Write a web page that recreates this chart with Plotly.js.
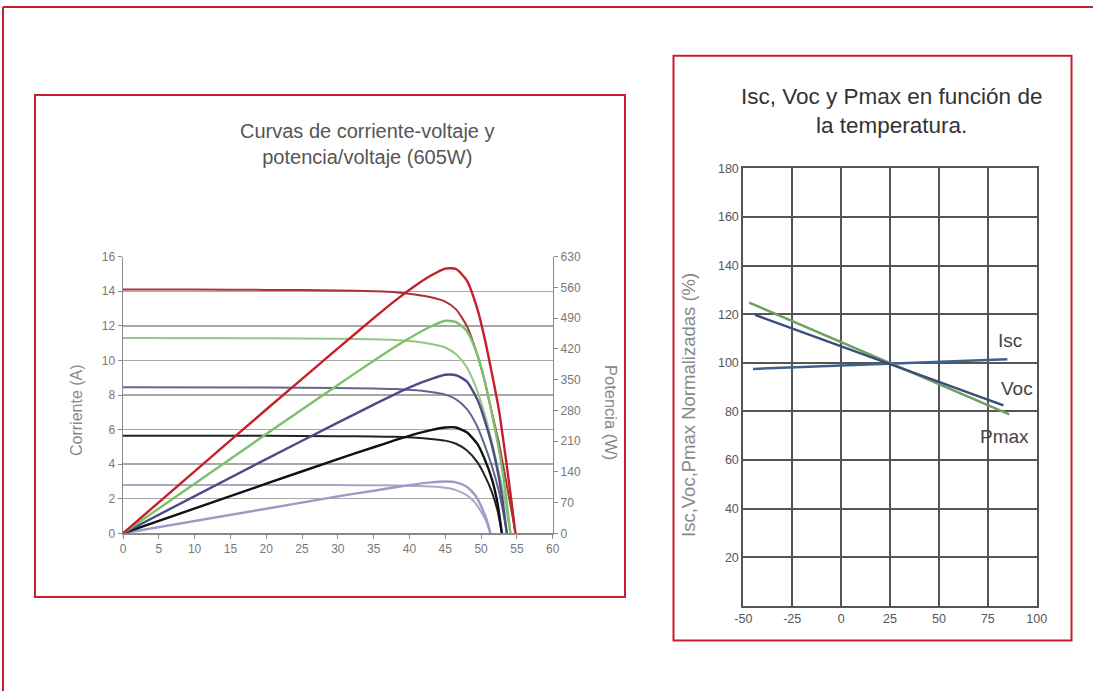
<!DOCTYPE html>
<html>
<head>
<meta charset="utf-8">
<script src="https://cdn.plot.ly/plotly-3.0.1.min.js"></script>
<style>html,body{margin:0;padding:0;background:#fff;}#chart{width:1093px;height:691px;}</style>
</head>
<body>
<div id="chart"></div>
<script>
// ---------- Left chart: I-V and P-V curves (605W) ----------
const vRed   = [0, 10, 20, 30, 35, 38, 41, 43, 45, 46.5, 48, 49.5, 50.5, 51.5, 52.5, 53.5, 54.2, 54.8];
const iRed   = [14.1, 14.1, 14.08, 14.05, 14.0, 13.95, 13.8, 13.65, 13.4, 12.95, 12.0, 10.3, 8.8, 7.0, 5.2, 3.0, 1.4, 0];
const pRed   = [0, 141, 282, 421, 490, 530, 566, 587, 603, 602, 576, 510, 444, 365, 280, 165, 78, 0];

const vGreen = [0, 20, 30, 35, 38, 41, 43, 45, 46.5, 48, 49.5, 50.5, 51.5, 52.5, 53.3, 54.1];
const iGreen = [11.3, 11.28, 11.25, 11.22, 11.18, 11.08, 10.95, 10.75, 10.35, 9.6, 8.2, 6.9, 5.3, 3.5, 1.9, 0];
const pGreen = [0, 226, 338, 393, 425, 454, 471, 484, 481, 461, 406, 348, 273, 190, 105, 0];

const vPurple = [0, 20, 30, 35, 38, 41, 43, 45, 46.5, 48, 49.5, 50.5, 51.5, 52.5, 53.0, 53.6];
const iPurple = [8.45, 8.43, 8.4, 8.38, 8.35, 8.27, 8.17, 8.02, 7.75, 7.2, 6.15, 5.1, 3.9, 2.4, 1.4, 0];
const pPurple = [0, 169, 252, 293, 317, 339, 351, 361, 360, 346, 304, 258, 201, 126, 74, 0];

const vBlack = [0, 20, 30, 35, 38, 41, 43, 45, 46.5, 48, 49.5, 50.5, 51.5, 52.3, 52.9];
const iBlack = [5.65, 5.64, 5.62, 5.6, 5.58, 5.53, 5.46, 5.36, 5.18, 4.8, 4.1, 3.35, 2.4, 1.3, 0];
const pBlack = [0, 113, 169, 196, 212, 227, 235, 241, 241, 230, 203, 169, 124, 68, 0];

const vLav = [0, 20, 30, 35, 38, 41, 43, 45, 46.5, 48, 49.2, 50.2, 50.8, 51.3];
const iLav = [2.8, 2.8, 2.79, 2.78, 2.77, 2.74, 2.7, 2.63, 2.5, 2.2, 1.75, 1.1, 0.6, 0];
const pLav = [0, 56, 84, 97, 105, 112, 116, 118, 116, 106, 86, 55, 30, 0];

const currentTicks = [0, 2, 4, 6, 8, 10, 12, 14, 16];
const powerTicks = [0, 70, 140, 210, 280, 350, 420, 490, 560, 630];
const voltTicks = [0, 5, 10, 15, 20, 25, 30, 35, 40, 45, 50, 55, 60];

// ---------- Right chart: Isc, Voc, Pmax vs temperature ----------
const tIsc = [-45, 85];
const isc  = [97.5, 101.5];
const tVoc = [-44, 83];
const voc  = [119.7, 82.5];
const tPmax = [-47, 86];
const pmax  = [124.8, 78.8];
const tempTicks = [-50, -25, 0, 25, 50, 75, 100];
const tempLabels = ['-50', '-25', '0', '25', '50', '75', '100'];
const pctTicks = [20, 40, 60, 80, 100, 120, 140, 160, 180];

const FONT = 'Liberation Sans, Arial, sans-serif';
const cRed = '#c4202c', cRedIV = '#a8323c';
const cGreen = '#7cc06a', cGreenIV = '#92c884';
const cPurple = '#4c4b88', cPurpleIV = '#66658e';
const cBlack = '#111111', cBlackIV = '#222222';
const cLav = '#9c9ac6', cLavIV = '#a9a8c2';

function iv(x, y, color, w) {
  return {x: x, y: y, type: 'scatter', mode: 'lines', xaxis: 'x', yaxis: 'y',
    line: {color: color, width: w, shape: 'spline', smoothing: 0.6}, hoverinfo: 'skip'};
}
function pv(x, y, color, w) {
  return {x: x, y: y, type: 'scatter', mode: 'lines', xaxis: 'x', yaxis: 'y2',
    line: {color: color, width: w, shape: 'spline', smoothing: 0.6}, hoverinfo: 'skip'};
}

const traces = [
  iv(vLav, iLav, cLavIV, 2), pv(vLav, pLav, cLav, 2.4),
  iv(vBlack, iBlack, cBlackIV, 2), pv(vBlack, pBlack, cBlack, 2.4),
  iv(vPurple, iPurple, cPurpleIV, 2), pv(vPurple, pPurple, cPurple, 2.4),
  iv(vGreen, iGreen, cGreenIV, 2), pv(vGreen, pGreen, cGreen, 2.4),
  iv(vRed, iRed, cRedIV, 2), pv(vRed, pRed, cRed, 2.4),
  {x: tIsc, y: isc, type: 'scatter', mode: 'lines', xaxis: 'x3', yaxis: 'y3',
   line: {color: '#3f5f8c', width: 2.5}, hoverinfo: 'skip'},
  {x: tPmax, y: pmax, type: 'scatter', mode: 'lines', xaxis: 'x3', yaxis: 'y3',
   line: {color: '#6ea060', width: 2.5}, hoverinfo: 'skip'},
  {x: tVoc, y: voc, type: 'scatter', mode: 'lines', xaxis: 'x3', yaxis: 'y3',
   line: {color: '#3c4a7c', width: 2.5}, hoverinfo: 'skip'}
];

const tickFontL = {family: FONT, size: 12, color: '#777'};
const tickFontR = {family: FONT, size: 12.5, color: '#555'};

function ann(x, y, text, size, color, angle) {
  return {xref: 'paper', yref: 'paper', x: x/1093, y: 1 - y/691, showarrow: false,
    xanchor: 'center', yanchor: 'middle', align: 'center', text: text,
    textangle: angle || 0, font: {family: FONT, size: size, color: color}};
}

const layout = {
  width: 1093, height: 691,
  margin: {l: 0, r: 0, t: 0, b: 0},
  paper_bgcolor: '#ffffff', plot_bgcolor: 'rgba(0,0,0,0)',
  showlegend: false,
  xaxis: {
    domain: [123/1093, 552.7/1093], range: [0, 60], tickvals: voltTicks,
    showgrid: false, zeroline: false, showline: true, linecolor: '#8a8a8a', linewidth: 1.5,
    ticks: 'outside', ticklen: 4, tickcolor: '#8a8a8a', tickfont: tickFontL, anchor: 'y'
  },
  yaxis: {
    domain: [1 - 533.3/691, 1 - 256.7/691], range: [0, 16], tickvals: currentTicks,
    showgrid: true, gridcolor: '#a8a8a8', gridwidth: 1.5, zeroline: false,
    showline: true, linecolor: '#8a8a8a', linewidth: 1.5,
    ticks: 'outside', ticklen: 4, tickcolor: '#8a8a8a', tickfont: tickFontL, anchor: 'x'
  },
  yaxis2: {
    overlaying: 'y', side: 'right', range: [0, 630], tickvals: powerTicks,
    showgrid: false, zeroline: false, showline: true, linecolor: '#8a8a8a', linewidth: 1.5,
    ticks: 'outside', ticklen: 4, tickcolor: '#8a8a8a', tickfont: tickFontL, anchor: 'x'
  },
  xaxis3: {
    domain: [743.3/1093, 1036.7/1093], range: [-50, 100], tickvals: tempTicks, ticktext: tempLabels,
    showgrid: true, gridcolor: '#555555', gridwidth: 2, zeroline: false,
    showline: true, mirror: true, linecolor: '#555555', linewidth: 2,
    ticks: '', tickfont: tickFontR, anchor: 'y3'
  },
  yaxis3: {
    domain: [1 - 606/691, 1 - 168.3/691], range: [0, 180], tickvals: pctTicks,
    showgrid: true, gridcolor: '#555555', gridwidth: 2, zeroline: false,
    showline: true, mirror: true, linecolor: '#555555', linewidth: 2,
    ticks: '', tickfont: tickFontR, anchor: 'x3'
  },
  shapes: [
    {type: 'line', xref: 'paper', yref: 'paper', x0: 3/1093, x1: 1, y0: 1 - 7/691, y1: 1 - 7/691,
     line: {color: '#c4202c', width: 2}},
    {type: 'line', xref: 'paper', yref: 'paper', x0: 3/1093, x1: 3/1093, y0: 0, y1: 1 - 7/691,
     line: {color: '#c4202c', width: 2}},
    {type: 'rect', xref: 'paper', yref: 'paper', x0: 35/1093, x1: 625/1093,
     y0: 1 - 597/691, y1: 1 - 95/691, line: {color: '#c4202c', width: 2}},
    {type: 'rect', xref: 'paper', yref: 'paper', x0: 673.5/1093, x1: 1071.5/1093,
     y0: 1 - 640.5/691, y1: 1 - 55.7/691, line: {color: '#c4202c', width: 2}}
  ],
  annotations: [
    ann(367, 144, 'Curvas de corriente-voltaje y<br>potencia/voltaje (605W)', 20, '#555'),
    ann(891, 111, 'Isc, Voc y Pmax en función de<br>la temperatura.', 22.5, '#333'),
    ann(76, 410, 'Corriente (A)', 16, '#888', -90),
    ann(611, 412, 'Potencia (W)', 16.5, '#888', 90),
    ann(688, 405, 'Isc,Voc,Pmax Normalizadas (%)', 18.5, '#888', -90),
    ann(1010, 340, 'Isc', 19, '#444'),
    ann(1017, 388, 'Voc', 19, '#444'),
    ann(1004, 437, 'Pmax', 19, '#444')
  ]
};

Plotly.newPlot('chart', traces, layout, {staticPlot: true, displayModeBar: false});
</script>
</body>
</html>
